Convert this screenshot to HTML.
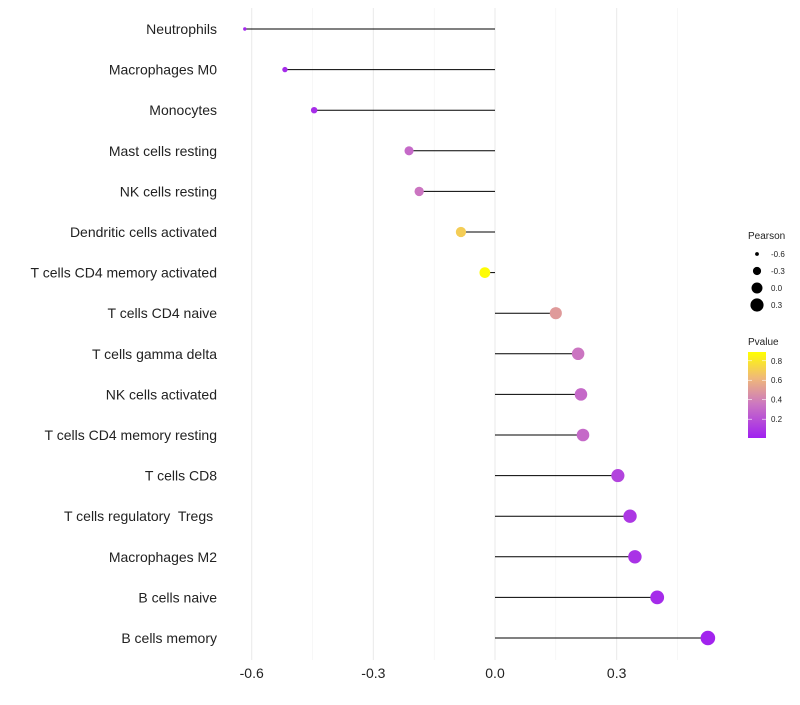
<!DOCTYPE html>
<html><head><meta charset="utf-8"><style>
body{margin:0;background:#fff;font-family:"Liberation Sans",sans-serif;}
svg text{font-family:"Liberation Sans",sans-serif;white-space:pre;}
</style></head><body>
<svg id="chart" width="800" height="700"></svg>
<script>
const categories=["Neutrophils","Macrophages M0","Monocytes","Mast cells resting","NK cells resting","Dendritic cells activated","T cells CD4 memory activated","T cells CD4 naive","T cells gamma delta","NK cells activated","T cells CD4 memory resting","T cells CD8","T cells regulatory  Tregs ","Macrophages M2","B cells naive","B cells memory"];
const pearson=[-0.617,-0.518,-0.446,-0.212,-0.187,-0.084,-0.025,0.150,0.205,0.212,0.217,0.303,0.333,0.345,0.400,0.525];
const pvalues=[0.03,0.05,0.06,0.30,0.35,0.70,0.88,0.50,0.35,0.30,0.30,0.15,0.10,0.08,0.05,0.02];
const xTicks=[-0.6,-0.3,0.0,0.3];
const xTickLabels=["-0.6","-0.3","0.0","0.3"];
const sizeLegend=[-0.6,-0.3,0.0,0.3];
const pLegend=[0.2,0.4,0.6,0.8];

const NS="http://www.w3.org/2000/svg";
const svg=document.getElementById('chart');
function mk(t,a,p){const e=document.createElementNS(NS,t);for(const k in a)e.setAttribute(k,a[k]);(p||svg).appendChild(e);return e;}
const x=v=>495+v*405.5;
const y=i=>29+i*40.6;
const rad=v=>Math.sqrt(Math.max(2.5,30+44*v));
const stops=[[0,[160,32,240]],[0.4,[204,120,192]],[0.7,[240,185,120]],[1,[255,255,0]]];
function col(p){const t=Math.min(1,Math.max(0,(p-0.007)/(0.89-0.007)));for(let i=1;i<stops.length;i++){if(t<=stops[i][0]){const a=stops[i-1],b=stops[i];const f=(t-a[0])/(b[0]-a[0]);return 'rgb('+a[1].map((c,k)=>Math.round(c+(b[1][k]-c)*f)).join(',')+')';}}return 'rgb(255,255,0)';}

[-0.45,-0.15,0.15,0.45].forEach(v=>{const g=mk('line',{x1:x(v),x2:x(v),y1:8,y2:660,stroke:'#f2f2f2','stroke-width':0.6});

});
xTicks.forEach((v,i)=>{const g=mk('line',{x1:x(v),x2:x(v),y1:8,y2:660,stroke:'#ebebeb','stroke-width':1.1});


const t=mk('text',{x:x(v),y:678,'text-anchor':'middle','font-size':14,fill:'#222'});t.textContent=xTickLabels[i];

});
categories.forEach((c,i)=>{const t=mk('text',{x:217,y:y(i)+5,'text-anchor':'end','font-size':14,fill:'#222'});t.textContent=c;

});
categories.forEach((c,i)=>{const l=mk('line',{x1:x(0),x2:x(pearson[i]),y1:y(i),y2:y(i),stroke:'#000','stroke-width':1});

});
categories.forEach((c,i)=>{const p=mk('circle',{cx:x(pearson[i]),cy:y(i),r:rad(pearson[i]),fill:col(pvalues[i])});

});
let t=mk('text',{x:748,y:239,'font-size':10,fill:'#222'});t.textContent='Pearson';


sizeLegend.forEach((v,i)=>{const cy=254+i*17;const c=mk('circle',{cx:757,cy:cy,r:rad(v),fill:'#000'});


const l=mk('text',{x:771,y:cy+3,'font-size':8,fill:'#222'});l.textContent=v.toFixed(1);

});
t=mk('text',{x:748,y:345,'font-size':10,fill:'#222'});t.textContent='Pvalue';


const defs=mk('defs',{});const lg=mk('linearGradient',{id:'pg',x1:0,y1:1,x2:0,y2:0},defs);
stops.forEach(s=>mk('stop',{offset:s[0],'stop-color':'rgb('+s[1].join(',')+')'},lg));
const bar=mk('rect',{x:748,y:352,width:18,height:86,fill:'url(#pg)'});


const py=p=>438-(p-0.007)/(0.89-0.007)*86;
pLegend.forEach(p=>{mk('line',{x1:748,x2:752,y1:py(p),y2:py(p),stroke:'#fff','stroke-width':0.6});mk('line',{x1:762,x2:766,y1:py(p),y2:py(p),stroke:'#fff','stroke-width':0.6});
const l=mk('text',{x:771,y:py(p)+3,'font-size':8,fill:'#222'});l.textContent=p.toFixed(1);

});
</script></body></html>
